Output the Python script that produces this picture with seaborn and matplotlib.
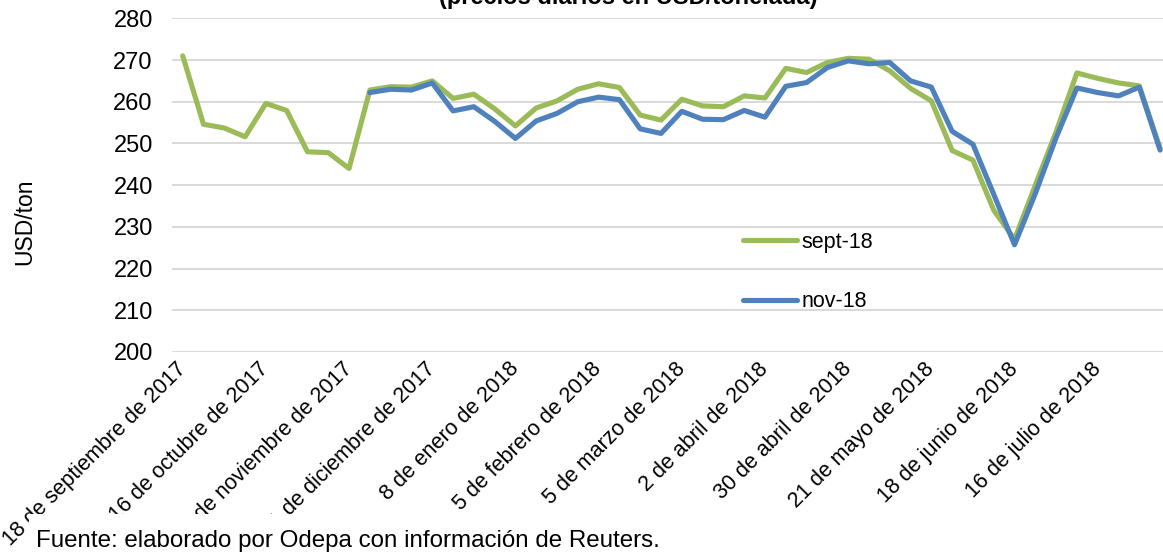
import numpy as np
import pandas as pd
import seaborn as sns
import matplotlib.pyplot as plt
from matplotlib.patches import Rectangle

sns.set_theme(style="whitegrid")
plt.rcParams["font.family"] = ["Liberation Sans", "DejaVu Sans"]
plt.rcParams["text.color"] = "black"
plt.rcParams["axes.labelcolor"] = "black"

COLORS = {
    "sept-18": "#9BBB59",
    "nov-18": "#4F81BD",
    "grid": "#D9D9D9",
}

# Datos semanales (USD/ton)
sept18 = [271.0, 254.6, 253.7, 251.6, 259.6, 257.9, 248.0, 247.8, 244.0, 262.8,
          263.6, 263.5, 265.0, 260.8, 261.8, 258.3, 254.2, 258.5, 260.2, 263.0,
          264.3, 263.4, 256.8, 255.6, 260.6, 259.0, 258.8, 261.4, 260.9, 268.0,
          267.0, 269.4, 270.4, 270.2, 267.4, 263.2, 260.2, 248.3, 246.0, 234.0,
          227.0, 240.0, 252.8, 266.9, 265.6, 264.5, 263.8, 248.8]
nov18_start = 9
nov18 = [262.2, 263.0, 262.8, 264.5, 257.8, 258.8, 255.3, 251.2, 255.4, 257.2,
         260.0, 261.1, 260.5, 253.5, 252.4, 257.7, 255.8, 255.7, 257.9, 256.3,
         263.7, 264.6, 268.2, 269.8, 269.1, 269.4, 265.0, 263.5, 252.9, 249.8,
         237.8, 225.7, 238.0, 251.4, 263.3, 262.2, 261.4, 263.5, 248.4]

tick_labels = ["18 de septiembre de 2017", "16 de octubre de 2017",
               "13 de noviembre de 2017", "11 de diciembre de 2017",
               "8 de enero de 2018", "5 de febrero de 2018", "5 de marzo de 2018",
               "2 de abril de 2018", "30 de abril de 2018", "21 de mayo de 2018",
               "18 de junio de 2018", "16 de julio de 2018"]
label_step = 4

df = pd.concat([
    pd.DataFrame({"semana": np.arange(len(sept18)), "precio": sept18, "serie": "sept-18"}),
    pd.DataFrame({"semana": np.arange(nov18_start, nov18_start + len(nov18)),
                  "precio": nov18, "serie": "nov-18"}),
], ignore_index=True)

W, H = 1163, 552
fig = plt.figure(figsize=(W / 100, H / 100), dpi=100)
ax = fig.add_axes([172.3 / W, 200 / H, (1170.5 - 172.3) / W, (533.7 - 200) / H])

sns.lineplot(data=df, x="semana", y="precio", hue="serie",
             palette=[COLORS["sept-18"], COLORS["nov-18"]],
             estimator=None, linewidth=3.7, ax=ax,
             solid_capstyle="round", solid_joinstyle="round")

ax.set_xlim(-0.5, len(sept18) - 0.5)
ax.set_ylim(200, 280)
ax.set_yticks(np.arange(200, 281, 10))
ax.tick_params(axis="y", labelsize=17, pad=14, length=0, labelcolor="black")
ax.set_xticks(np.arange(0, len(sept18), label_step)[:len(tick_labels)])
ax.set_xticklabels(tick_labels, rotation=45, ha="right", va="center",
                   rotation_mode="anchor", fontsize=15.5)
ax.tick_params(axis="x", pad=10, length=0, labelcolor="black")
ax.grid(axis="y", color=COLORS["grid"], linewidth=1.4)
ax.grid(axis="x", visible=False)
for s in ax.spines.values():
    s.set_visible(False)
ax.set_xlabel("")
ax.set_ylabel("")

fig.text(25 / W, (H - 222) / H, "USD/ton", rotation=90, ha="center", va="center",
         fontsize=16.5)

handles, labels = ax.get_legend_handles_labels()
ax.legend(handles, labels, loc="upper left", bbox_to_anchor=(743 / W, (H - 232) / H),
          bbox_transform=fig.transFigure, frameon=False, fontsize=15.5,
          handlelength=2.5, handletextpad=0.2, labelspacing=1.78,
          borderpad=0, borderaxespad=0)

fig.text(628 / W, (H - 4) / H, "(precios diarios en USD/tonelada)",
         ha="center", va="baseline", fontsize=17, fontweight="bold")

# Caja blanca de la fuente (tapa parte de las etiquetas, como en el original)
fig.patches.append(Rectangle((29 / W, 0), 680 / W, 38 / H, transform=fig.transFigure,
                             facecolor="white", edgecolor="none", zorder=5))
fig.text(36 / W, 5 / H, "Fuente: elaborado por Odepa con información de Reuters.",
         ha="left", va="baseline", fontsize=17.4, zorder=10)

fig.savefig("out.png", dpi=100)
